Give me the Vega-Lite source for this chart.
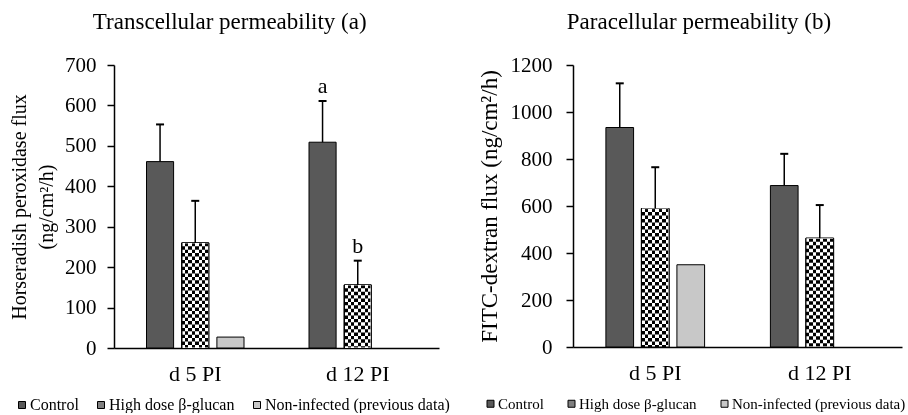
{
  "$schema": "https://vega.github.io/schema/vega-lite/v6.json",
  "padding": {"left": 9, "top": 11, "right": 0, "bottom": 0},
  "background": "white",
  "config": {
    "view": {"stroke": null},
    "font": "Liberation Serif",
    "title": {"font": "Liberation Serif", "fontSize": 23, "fontWeight": "normal", "color": "black", "anchor": "middle", "frame": "bounds"},
    "axis": {"labelFont": "Liberation Serif", "titleFont": "Liberation Serif", "labelColor": "black", "titleColor": "black", "titleFontWeight": "normal", "domainColor": "black", "tickColor": "black", "domainWidth": 1.5, "tickWidth": 1.5, "grid": false, "zindex": 1},
    "legend": {"labelFont": "Liberation Serif", "labelFontSize": 16, "labelColor": "black", "symbolType": "square", "symbolSize": 49, "symbolStrokeColor": "black", "symbolStrokeWidth": 1, "labelLimit": 400, "columnPadding": 14, "labelOffset": 0, "padding": 0, "direction": "horizontal", "orient": "none", "title": null}
  },
  "spacing": 27,
  "resolve": {"scale": {"x": "independent", "y": "independent", "xOffset": "independent", "fill": "independent"}, "legend": {"fill": "independent"}, "axis": {"x": "independent", "y": "independent"}},
  "hconcat": [
    {
      "width": 325,
      "height": 283,
      "title": {"text": "Transcellular permeability (a)", "offset": 20},
      "data": {"values": [
        {"day": "d 5 PI", "group": "Control", "value": 461, "upper": 553, "label": null},
        {"day": "d 5 PI", "group": "High dose β-glucan", "value": 260, "upper": 364, "label": null},
        {"day": "d 5 PI", "group": "Non-infected (previous data)", "value": 27, "upper": null, "label": null},
        {"day": "d 12 PI", "group": "Control", "value": 509, "upper": 611, "label": "a"},
        {"day": "d 12 PI", "group": "High dose β-glucan", "value": 156, "upper": 216, "label": "b"}
      ]},
      "encoding": {
        "x": {"field": "day", "type": "nominal", "sort": ["d 5 PI", "d 12 PI"], "scale": {"paddingInner": 0.4, "paddingOuter": 0.2},
              "axis": {"title": null, "labelAngle": 0, "ticks": false, "labelFontSize": 22, "labelPadding": 15}},
        "xOffset": {"field": "group", "type": "nominal", "sort": ["Control", "High dose β-glucan", "Non-infected (previous data)"],
                    "scale": {"domain": ["Control", "High dose β-glucan", "Non-infected (previous data)"], "paddingInner": 0.23, "paddingOuter": 0}}
      },
      "layer": [
        {
          "mark": {"type": "bar", "stroke": "black", "strokeWidth": 1},
          "encoding": {
            "y": {"field": "value", "type": "quantitative", "scale": {"domain": [0, 700], "nice": false},
                  "axis": {"title": ["Horseradish peroxidase flux", "(ng/cm²/h)"], "titleFontSize": 20, "titleLineHeight": 27, "titlePadding": 8,
                           "labelFontSize": 21, "tickSize": 7, "labelPadding": 11, "values": [0, 100, 200, 300, 400, 500, 600, 700], "format": "d"}},
            "fill": {"field": "group", "type": "nominal",
                     "scale": {"domain": ["Control", "High dose β-glucan", "Non-infected (previous data)"], "range": ["#595959", "#7f7f7f", "#c8c8c8"]},
                     "legend": {"legendX": -100, "legendY": 332}}
          }
        },
        {
          "transform": [{"filter": "datum.group === 'High dose β-glucan'"}],
          "mark": {"type": "bar", "stroke": "black", "strokeWidth": 1,
                   "fill": {"gradient": "linear", "x1": 0, "y1": 0, "x2": 1, "y2": 0, "stops": [
                     {"offset": 0, "color": "#000000"}, {"offset": 0.125, "color": "#000000"},
                     {"offset": 0.125, "color": "#ffffff"}, {"offset": 0.25, "color": "#ffffff"},
                     {"offset": 0.25, "color": "#000000"}, {"offset": 0.375, "color": "#000000"},
                     {"offset": 0.375, "color": "#ffffff"}, {"offset": 0.5, "color": "#ffffff"},
                     {"offset": 0.5, "color": "#000000"}, {"offset": 0.625, "color": "#000000"},
                     {"offset": 0.625, "color": "#ffffff"}, {"offset": 0.75, "color": "#ffffff"},
                     {"offset": 0.75, "color": "#000000"}, {"offset": 0.875, "color": "#000000"},
                     {"offset": 0.875, "color": "#ffffff"}, {"offset": 1, "color": "#ffffff"}]}},
          "encoding": {"y": {"field": "value", "type": "quantitative"}}
        },
        {
          "transform": [{"filter": "datum.group === 'High dose β-glucan'"}],
          "mark": {"type": "rule", "stroke": "white", "strokeWidth": 25.5, "strokeDash": [3.4, 3.4], "blend": "difference"},
          "encoding": {"y": {"field": "value", "type": "quantitative"}, "y2": {"datum": 0}}
        },
        {
          "transform": [{"filter": "datum.upper != null"}],
          "mark": {"type": "rule", "stroke": "black", "strokeWidth": 1.5},
          "encoding": {"y": {"field": "value", "type": "quantitative"}, "y2": {"field": "upper"}}
        },
        {
          "transform": [{"filter": "datum.upper != null"}],
          "mark": {"type": "tick", "color": "black", "size": 8, "thickness": 2, "opacity": 1},
          "encoding": {"y": {"field": "upper", "type": "quantitative"}}
        },
        {
          "transform": [{"filter": "datum.label != null"}],
          "mark": {"type": "text", "font": "Liberation Serif", "fontSize": 22, "color": "black", "baseline": "bottom", "dy": -3},
          "encoding": {"y": {"field": "upper", "type": "quantitative"}, "text": {"field": "label"}}
        }
      ]
    },
    {
      "width": 329,
      "height": 282,
      "title": {"text": "Paracellular permeability (b)", "offset": 20, "dx": 7},
      "data": {"values": [
        {"day": "d 5 PI", "group": "Control", "value": 934, "upper": 1122},
        {"day": "d 5 PI", "group": "High dose β-glucan", "value": 589, "upper": 765},
        {"day": "d 5 PI", "group": "Non-infected (previous data)", "value": 350, "upper": null},
        {"day": "d 12 PI", "group": "Control", "value": 687, "upper": 822},
        {"day": "d 12 PI", "group": "High dose β-glucan", "value": 463, "upper": 604}
      ]},
      "encoding": {
        "x": {"field": "day", "type": "nominal", "sort": ["d 5 PI", "d 12 PI"], "scale": {"paddingInner": 0.4, "paddingOuter": 0.2},
              "axis": {"title": null, "labelAngle": 0, "ticks": false, "labelFontSize": 22, "labelPadding": 15}},
        "xOffset": {"field": "group", "type": "nominal", "sort": ["Control", "High dose β-glucan", "Non-infected (previous data)"],
                    "scale": {"domain": ["Control", "High dose β-glucan", "Non-infected (previous data)"], "paddingInner": 0.22, "paddingOuter": 0}}
      },
      "layer": [
        {
          "mark": {"type": "bar", "stroke": "black", "strokeWidth": 1},
          "encoding": {
            "y": {"field": "value", "type": "quantitative", "scale": {"domain": [0, 1200], "nice": false},
                  "axis": {"title": "FITC-dextran flux (ng/cm²/h)", "titleFontSize": 23, "titlePadding": 9,
                           "labelFontSize": 21, "tickSize": 7, "labelPadding": 14, "values": [0, 200, 400, 600, 800, 1000, 1200], "format": "d"}},
            "fill": {"field": "group", "type": "nominal",
                     "scale": {"domain": ["Control", "High dose β-glucan", "Non-infected (previous data)"], "range": ["#595959", "#7f7f7f", "#c8c8c8"]},
                     "legend": {"legendX": -90, "legendY": 331, "labelFontSize": 15, "columnPadding": 20}}
          }
        },
        {
          "transform": [{"filter": "datum.group === 'High dose β-glucan'"}],
          "mark": {"type": "bar", "stroke": "black", "strokeWidth": 1,
                   "fill": {"gradient": "linear", "x1": 0, "y1": 0, "x2": 1, "y2": 0, "stops": [
                     {"offset": 0, "color": "#000000"}, {"offset": 0.125, "color": "#000000"},
                     {"offset": 0.125, "color": "#ffffff"}, {"offset": 0.25, "color": "#ffffff"},
                     {"offset": 0.25, "color": "#000000"}, {"offset": 0.375, "color": "#000000"},
                     {"offset": 0.375, "color": "#ffffff"}, {"offset": 0.5, "color": "#ffffff"},
                     {"offset": 0.5, "color": "#000000"}, {"offset": 0.625, "color": "#000000"},
                     {"offset": 0.625, "color": "#ffffff"}, {"offset": 0.75, "color": "#ffffff"},
                     {"offset": 0.75, "color": "#000000"}, {"offset": 0.875, "color": "#000000"},
                     {"offset": 0.875, "color": "#ffffff"}, {"offset": 1, "color": "#ffffff"}]}},
          "encoding": {"y": {"field": "value", "type": "quantitative"}}
        },
        {
          "transform": [{"filter": "datum.group === 'High dose β-glucan'"}],
          "mark": {"type": "rule", "stroke": "white", "strokeWidth": 26.5, "strokeDash": [3.5, 3.5], "blend": "difference"},
          "encoding": {"y": {"field": "value", "type": "quantitative"}, "y2": {"datum": 0}}
        },
        {
          "transform": [{"filter": "datum.upper != null"}],
          "mark": {"type": "rule", "stroke": "black", "strokeWidth": 1.5},
          "encoding": {"y": {"field": "value", "type": "quantitative"}, "y2": {"field": "upper"}}
        },
        {
          "transform": [{"filter": "datum.upper != null"}],
          "mark": {"type": "tick", "color": "black", "size": 8, "thickness": 2, "opacity": 1},
          "encoding": {"y": {"field": "upper", "type": "quantitative"}}
        }
      ]
    }
  ]
}
